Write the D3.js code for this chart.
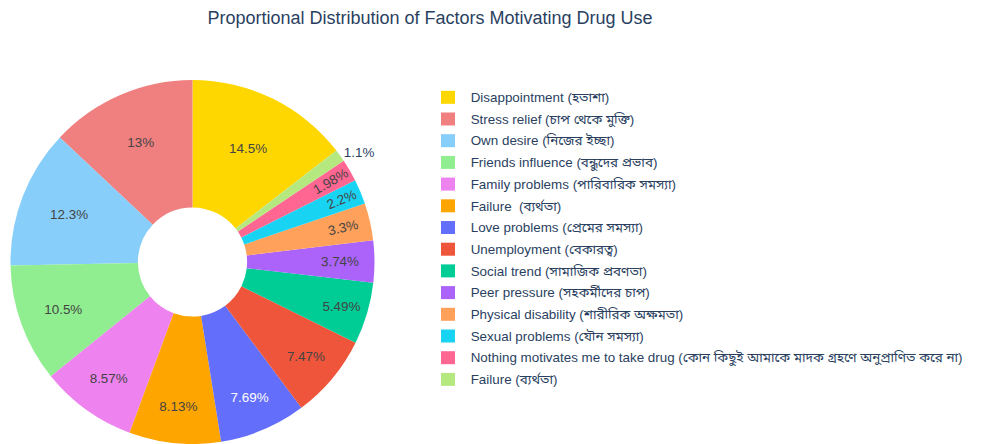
<!DOCTYPE html>
<html>
<head>
<meta charset="utf-8">
<script src="https://cdn.jsdelivr.net/npm/d3@7"></script>
<style>
  html, body { margin: 0; padding: 0; background: #fff; }
  svg { display: block; font-family: "Liberation Sans", Arial, "Noto Sans Bengali", "Noto Sans", sans-serif; }
</style>
</head>
<body>
<svg id="chart" width="998" height="444"></svg>
<script>
// Motivating factors and their share of responses (percent)
const categories = [
  "Disappointment (হতাশা)",
  "Stress relief (চাপ থেকে মুক্তি)",
  "Own desire (নিজের ইচ্ছা)",
  "Friends influence (বন্ধুদের প্রভাব)",
  "Family problems (পারিবারিক সমস্যা)",
  "Failure  (ব্যর্থতা)",
  "Love problems (প্রেমের সমস্যা)",
  "Unemployment (বেকারত্ব)",
  "Social trend (সামাজিক প্রবণতা)",
  "Peer pressure (সহকর্মীদের চাপ)",
  "Physical disability (শারীরিক অক্ষমতা)",
  "Sexual problems (যৌন সমস্যা)",
  "Nothing motivates me to take drug (কোন কিছুই আমাকে মাদক গ্রহণে অনুপ্রাণিত করে না)",
  "Failure (ব্যর্থতা)"
];
const percents = [14.5, 13, 12.3, 10.5, 8.57, 8.13, 7.69, 7.47, 5.49, 3.74, 3.3, 2.2, 1.98, 1.1];
const sliceColors = [
  "#FFD700", "#F08080", "#87CEFA", "#90EE90", "#EE82EE", "#FFA500", "#636EFA",
  "#EF553B", "#00CC96", "#AB63FA", "#FFA15A", "#19D3F3", "#FF6692", "#B6E880"
];
const chartTitle = "Proportional Distribution of Factors Motivating Drug Use";

const svg = d3.select("#chart");
const W = 998, H = 444;
const cx = 192.5, cy = 262, R = 182, hole = 0.3;
const fontSize = 13.4;
const titleColor = "#2a3f5f";

svg.append("rect").attr("width", W).attr("height", H).attr("fill", "#fff");

// Title
svg.append("text")
  .attr("x", 430).attr("y", 24)
  .attr("text-anchor", "middle")
  .attr("font-size", 18)
  .attr("fill", titleColor)
  .text(chartTitle);

// Pie layout: first slice ends at 12 o'clock, the rest run counter-clockwise
const total = d3.sum(percents);
const a0 = 2 * Math.PI * percents[0] / total;
const pie = d3.pie().sort(null).value(d => d)
  .startAngle(a0).endAngle(a0 - 2 * Math.PI);
const arcs = pie(percents);
const arc = d3.arc().innerRadius(R * hole).outerRadius(R);

const g = svg.append("g").attr("transform", `translate(${cx},${cy})`);
g.selectAll("path.slice")
  .data(arcs)
  .join("path")
  .attr("class", "slice")
  .attr("d", arc)
  .attr("fill", (d, i) => sliceColors[i]);

// Text colour picked for contrast against the slice fill
function contrastColor(c) {
  const rgb = d3.rgb(c);
  const br = (rgb.r * 299 + rgb.g * 587 + rgb.b * 114) / 1000;
  return br < 128 ? "#fff" : "#444";
}

const TEXTPAD = 3;
const ring = 1 - hole;
function maxHalfSize(a, half, r) {
  const q = a + 1 / (2 * Math.tan(half));
  return r * Math.min(1 / (Math.sqrt(q * q + 0.5) + q), ring / (Math.sqrt(a * a + ring / 2) + a));
}
function rotateFor(t) { return ((t * 180 / Math.PI + 720) % 180) - 90; }

const labels = g.append("g");
arcs.forEach((d, i) => {
  const label = percents[i] + "%";
  const t = labels.append("text")
    .attr("font-size", fontSize)
    .text(label);
  const bb = t.node().getBBox();
  const half = Math.abs(d.endAngle - d.startAngle) / 2;
  const mid = (d.startAngle + d.endAngle) / 2;
  const px = R * Math.sin(mid), py = -R * Math.cos(mid);
  const diam = Math.hypot(bb.width, bb.height) + 1;
  const rIns = Math.min(1 / (1 + 1 / Math.sin(half)), ring / 2);

  // Horizontal first; otherwise the better of radial and tangential
  let tr = { scale: rIns * R * 2 / diam, rCenter: 1 - rIns, rotate: 0 };
  if (tr.scale < 1) {
    const r2 = Math.max(0, R - 2 * TEXTPAD);
    const aR = bb.width / bb.height;
    const sR = maxHalfSize(aR, half, r2);
    const radT = { scale: sR * 2 / bb.height, rCenter: Math.cos(sR / r2) - aR * sR / r2, rotate: rotateFor(mid) };
    const aT = bb.height / bb.width;
    const sT = maxHalfSize(aT, half, r2);
    const tanT = { scale: sT * 2 / bb.width, rCenter: Math.cos(sT / r2) - aT * sT / r2, rotate: rotateFor(mid + Math.PI / 2) };
    [radT, tanT].forEach(c => { if (c.scale > tr.scale) tr = c; });
  }

  const bcx = bb.x + bb.width / 2, bcy = bb.y + bb.height / 2;
  if (tr.scale >= 1) {
    const tx = px * tr.rCenter, ty = py * tr.rCenter;
    t.attr("fill", contrastColor(sliceColors[i]))
      .attr("transform", `translate(${tx},${ty}) rotate(${tr.rotate}) translate(${-bcx},${-bcy})`);
  } else {
    // Too thin to hold its label: place it just outside the rim
    let dx = bb.width / 2, dy = bb.height / 2;
    if (px < 0) dx = -dx;
    if (py < 0) dy = -dy;
    const ox = dx + Math.abs(dy) * (dx > 0 ? 1 : -1) / 2;
    const oy = dy / (1 + px * px / (py * py));
    t.attr("fill", titleColor)
      .attr("transform", `translate(${px + ox},${py + oy}) translate(${-bcx},${-bcy})`);
  }
});

// Legend
const legendX = 441, legendY = 97.3, rowH = 21.7;
const legend = svg.append("g");
categories.forEach((name, i) => {
  const row = legend.append("g").attr("transform", `translate(${legendX},${legendY + i * rowH})`);
  row.append("rect")
    .attr("x", 0).attr("y", -6.5)
    .attr("width", 14).attr("height", 13)
    .attr("fill", sliceColors[i]);
  row.append("text")
    .attr("x", 29.7).attr("y", 0)
    .attr("dy", "0.35em")
    .attr("font-size", fontSize)
    .attr("fill", titleColor)
    .style("white-space", "pre")
    .text(name);
});
</script>
</body>
</html>
